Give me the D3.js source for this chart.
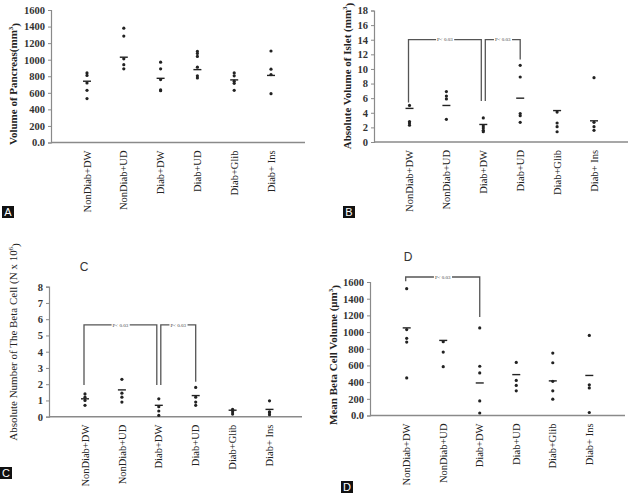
<!DOCTYPE html>
<html>
<head>
<meta charset="utf-8">
<script src="https://cdn.jsdelivr.net/npm/d3@7/dist/d3.min.js"></script>
<style>
  body { margin: 0; background: #fff; }
  svg { display: block; }
</style>
</head>
<body>
<div id="chart"></div>
<script>
// groups shown on every panel
const categories = ["NonDiab+DW", "NonDiab+UD", "Diab+DW", "Diab+UD", "Diab+Glib", "Diab+ Ins"];

// A - volume of pancreas (mm3)
const pancreasTicks = [0, 200, 400, 600, 800, 1000, 1200, 1400, 1600];
const pancreasPoints = [[840, 810, 720, 630, 530], [1380, 1285, 1010, 940, 890], [970, 890, 760, 635, 625],
                        [1100, 1075, 1040, 910, 805, 780], [840, 805, 740, 715, 630], [1105, 885, 820, 590]];
const pancreasMeans = [740, 1030, 775, 880, 756, 810];

// B - absolute volume of islet (mm3)
const isletTicks = [0, 2, 4, 6, 8, 10, 12, 14, 16, 18];
const isletPoints = [[5.0, 2.8, 2.6, 2.3], [6.9, 6.3, 5.9, 3.1], [3.3, 2.2, 1.9, 1.6, 1.4],
                     [10.5, 8.9, 3.9, 3.6, 2.7], [4.1, 2.6, 2.1, 1.4], [8.8, 2.7, 2.1, 1.6]];
const isletMeans = [4.6, 5.0, 2.4, 6.0, 4.3, 2.9];
const isletBrackets = [{ from: 0, to: 2, top: 14, lo: [5.4, 5.6] }, { from: 2, to: 3, top: 14, lo: [5.6, 11.3] }];

// C - absolute number of beta cells (N x 10^6)
const betaNumTicks = [0, 1, 2, 3, 4, 5, 6, 7, 8];
const betaNumPoints = [[1.4, 1.2, 1.0, 0.7], [2.3, 1.45, 1.2, 0.9], [1.1, 0.62, 0.35, 0.08],
                       [1.8, 1.2, 0.9, 0.7], [0.45, 0.3, 0.16], [0.98, 0.3, 0.25, 0.12]];
const betaNumMeans = [1.1, 1.65, 0.7, 1.3, 0.4, 0.45];
const betaNumBrackets = [{ from: 0, to: 2, top: 5.65, lo: [1.95, 1.95] }, { from: 2, to: 3, top: 5.65, lo: [1.95, 2.15] }];

// D - mean beta cell volume (um3)
const betaVolTicks = [0, 200, 400, 600, 800, 1000, 1200, 1400, 1600];
const betaVolPoints = [[1520, 1030, 925, 880, 450], [885, 760, 585], [1050, 590, 510, 175, 30],
                       [636, 420, 360, 296], [748, 632, 410, 296, 196], [960, 368, 330, 36]];
const betaVolMeans = [1050, 900, 390, 490, 415, 480];
const betaVolBrackets = [{ from: 0, to: 2, top: 1660, lo: [1610, 1180] }];

const pLabel = "P< 0.03";

const width = 630, height = 493;
const serif = "'Liberation Serif', 'Times New Roman', serif";
const sans = "'Liberation Sans', Arial, sans-serif";

const svg = d3.select("#chart").append("svg")
    .attr("width", width)
    .attr("height", height);

svg.append("rect").attr("width", width).attr("height", height).attr("fill", "#fff");

const panels = [
    { letter: "A", points: pancreasPoints, means: pancreasMeans, ticks: pancreasTicks, brackets: [],
      fmt: d => d === 0 ? "0.0" : d, left: 51, right: 305, top: 10, bottom: 142.5, cat: [87, 271],
      title: ["Volume of Pancreas(mm", "3", ")"], titleX: 13, titleY: 84, bold: true,
      box: [2, 206] },
    { letter: "B", points: isletPoints, means: isletMeans, ticks: isletTicks, brackets: isletBrackets,
      fmt: d => d, left: 374, right: 628, top: 10.5, bottom: 142, cat: [409.5, 594],
      title: ["Absolute Volume of Islet (mm", "3", ")"], titleX: 347, titleY: 76, bold: true,
      box: [343, 206] },
    { letter: "C", points: betaNumPoints, means: betaNumMeans, ticks: betaNumTicks, brackets: betaNumBrackets,
      fmt: d => d, left: 49, right: 302, top: 286.7, bottom: 416.7, cat: [85, 269.5],
      title: ["Absolute Number of The Beta Cell (N x 10", "6", ")"], titleX: 13, titleY: 342, bold: false,
      box: [0, 467], head: [84, 267] },
    { letter: "D", points: betaVolPoints, means: betaVolMeans, ticks: betaVolTicks, brackets: betaVolBrackets,
      fmt: d => d === 0 ? "0.0" : d, left: 370, right: 625, top: 282, bottom: 415.5, cat: [406.7, 589.3],
      title: ["Mean Beta Cell Volume (\u03bcm", "3", ")"], titleX: 333, titleY: 355, bold: true,
      box: [341, 481], head: [408, 257] }
];

panels.forEach(drawPanel);

function drawPanel(p) {
    const g = svg.append("g").attr("class", "panel-" + p.letter);

    const x = d3.scalePoint().domain(d3.range(categories.length)).range(p.cat);
    const y = d3.scaleLinear().domain([0, d3.max(p.ticks)]).range([p.bottom, p.top]);

    // y axis
    const yAxis = g.append("g")
        .attr("transform", `translate(${p.left},0)`)
        .call(d3.axisLeft(y).tickValues(p.ticks).tickFormat(p.fmt).tickSize(3).tickPadding(3));
    yAxis.select(".domain").attr("stroke", "#8a8a8a").attr("stroke-width", 1.2);
    yAxis.selectAll(".tick line").attr("stroke", "#8a8a8a");
    yAxis.selectAll(".tick text")
        .attr("font-family", serif).attr("font-size", 10.5).attr("font-weight", "bold").attr("fill", "#333");

    // x axis line
    g.append("line")
        .attr("x1", p.left).attr("x2", p.right)
        .attr("y1", p.bottom).attr("y2", p.bottom)
        .attr("stroke", "#8a8a8a").attr("stroke-width", 1.5);

    // category labels, rotated
    g.selectAll(".cat")
        .data(categories)
        .join("text")
        .attr("class", "cat")
        .attr("transform", (d, i) => `translate(${x(i)},${p.bottom + 8}) rotate(-90)`)
        .attr("text-anchor", "end")
        .attr("dy", "0.35em")
        .attr("font-family", serif).attr("font-size", 10.5).attr("fill", "#222")
        .text(d => d);

    // y title
    const t = g.append("text")
        .attr("transform", `translate(${p.titleX},${p.titleY}) rotate(-90)`)
        .attr("text-anchor", "middle")
        .attr("dy", "0.35em")
        .attr("font-family", serif).attr("font-size", 11)
        .attr("font-weight", p.bold ? "bold" : "normal").attr("fill", "#222");
    t.append("tspan").text(p.title[0]);
    t.append("tspan").attr("font-size", 7).attr("dy", "-0.5em").text(p.title[1]);
    t.append("tspan").attr("dy", "0.5em").text(p.title[2]);

    // dots
    p.points.forEach((vals, i) => {
        g.append("g").selectAll("circle")
            .data(vals)
            .join("circle")
            .attr("cx", x(i))
            .attr("cy", d => y(d))
            .attr("r", 1.6)
            .attr("fill", "#222");
    });

    // mean bars
    g.selectAll(".mean")
        .data(p.means)
        .join("line")
        .attr("class", "mean")
        .attr("x1", (d, i) => x(i) - 4).attr("x2", (d, i) => x(i) + 4)
        .attr("y1", d => y(d)).attr("y2", d => y(d))
        .attr("stroke", "#222").attr("stroke-width", 1.4);

    // significance brackets
    p.brackets.forEach(b => {
        const sharedEnd = p.brackets.some(o => o !== b && o.from === b.to);
        const sharedStart = p.brackets.some(o => o !== b && o.to === b.from);
        const xa = x(b.from) + (sharedStart ? 2 : -1);
        const xb = x(b.to) + (sharedEnd ? -2 : 0);
        const yt = y(b.top);
        const bg = g.append("g");
        bg.append("path")
            .attr("d", `M${xa},${y(b.lo[0])}V${yt}H${xb}V${y(b.lo[1])}`)
            .attr("fill", "none").attr("stroke", "#555").attr("stroke-width", 1.3);
        const patch = bg.append("rect").attr("fill", "#fff");
        const lab = bg.append("text")
            .attr("x", (xa + xb) / 2).attr("y", yt)
            .attr("dy", "0.35em")
            .attr("text-anchor", "middle")
            .attr("font-family", serif).attr("font-size", 5).attr("fill", "#444")
            .text(pLabel);
        const bb = lab.node().getBBox();
        patch.attr("x", bb.x - 1).attr("y", bb.y).attr("width", bb.width + 2).attr("height", bb.height);
    });

    // panel heading (C and D)
    if (p.head) {
        g.append("text")
            .attr("x", p.head[0]).attr("y", p.head[1])
            .attr("dy", "0.35em").attr("text-anchor", "middle")
            .attr("font-family", sans).attr("font-size", 12).attr("fill", "#333")
            .text(p.letter);
    }

    // letter box
    g.append("rect")
        .attr("x", p.box[0]).attr("y", p.box[1]).attr("width", 12).attr("height", 12)
        .attr("fill", "#111");
    g.append("text")
        .attr("x", p.box[0] + 6).attr("y", p.box[1] + 6)
        .attr("dy", "0.36em").attr("text-anchor", "middle")
        .attr("font-family", sans).attr("font-size", 11).attr("fill", "#fff")
        .text(p.letter);
}
</script>
</body>
</html>
